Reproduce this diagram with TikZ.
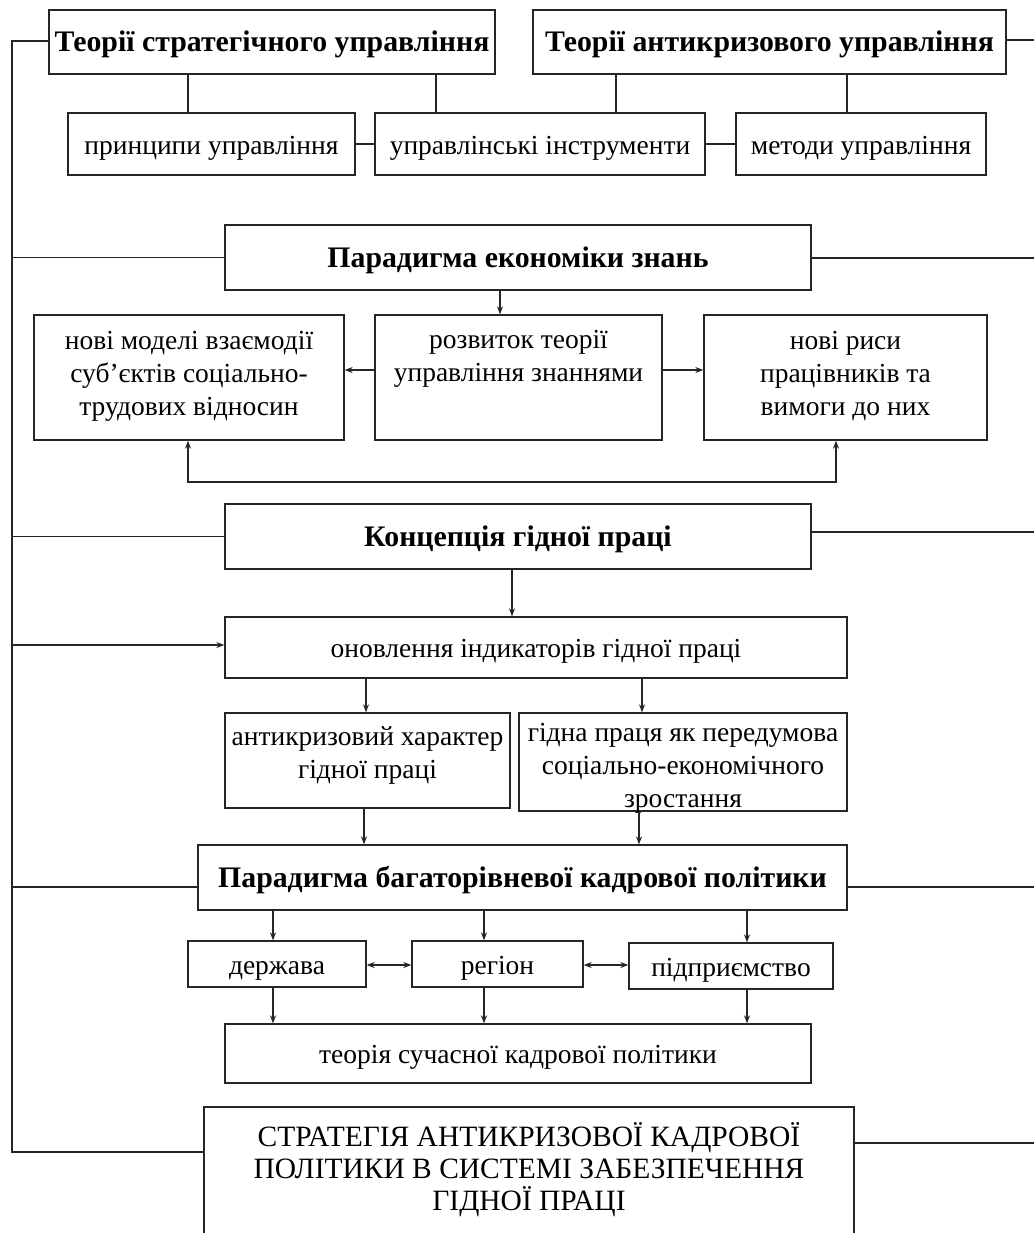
\documentclass[tikz,border=0pt]{standalone}
\usepackage{fontspec}
\setmainfont{Liberation Serif}
\usetikzlibrary{arrows.meta}
\begin{document}
\begin{tikzpicture}[x=1bp,y=-1bp,
  box/.style={draw=black!85, line width=1.3bp, inner sep=0pt, align=center, font=\fontsize{27.5bp}{33bp}\selectfont, text height=20.6bp, text depth=0pt},
  hbox/.style={box, font=\fontsize{29.8bp}{33bp}\selectfont\bfseries, text height=19.6bp},
  ln/.style={draw=black!85, line width=1.3bp},
  arr/.style={ln, -{Stealth[length=8bp,width=6bp]}},
  darr/.style={ln, {Stealth[length=8bp,width=6bp]}-{Stealth[length=8bp,width=6bp]}}]
\useasboundingbox (0,0) rectangle (1034,1233);
\clip (0,0) rectangle (1034,1233);
\fill[white] (0,0) rectangle (1034,1233);
% top row
\node[hbox, minimum width=446bp, minimum height=64bp] (b1) at (272,42) {Теорії стратегічного управління};
\node[hbox, minimum width=473bp, minimum height=64bp] (b2) at (769.5,42) {Теорії антикризового управління};
\node[box, minimum width=287bp, minimum height=62bp] (p1) at (211.5,144) {принципи управління};
\node[box, minimum width=330bp, minimum height=62bp] (p2) at (540,144) {управлінські інструменти};
\node[box, minimum width=250bp, minimum height=62bp] (p3) at (861,144) {методи управління};
\draw[ln] (p1.east) -- (p2.west);
\draw[ln] (p2.east) -- (p3.west);
\draw[ln] (188,0 |- b1.south) -- (188,0 |- p1.north);
\draw[ln] (436,0 |- b1.south) -- (436,0 |- p2.north);
\draw[ln] (616,0 |- b2.south) -- (616,0 |- p2.north);
\draw[ln] (847,0 |- b2.south) -- (847,0 |- p3.north);
% knowledge economy
\node[hbox, minimum width=586bp, minimum height=65bp] (ec) at (518,257.5) {Парадигма економіки знань};
\node[box, text height=86.6bp, text depth=11.6bp, minimum width=310bp, minimum height=125bp] (m1) at (189,377.5) {нові моделі взаємодії\\суб’єктів соціально-\\трудових відносин};
\node[box, text height=53.6bp, text depth=45bp, minimum width=287bp, minimum height=125bp] (m2) at (518.5,377.5) {розвиток теорії\\управління знаннями};
\node[box, text height=86.6bp, text depth=11.6bp, minimum width=283bp, minimum height=125bp] (m3) at (845.5,377.5) {нові риси\\працівників та\\вимоги до них};
\draw[arr] (500,0 |- ec.south) -- (500,0 |- m2.north);
\draw[arr] (m2.west |- 0,370) -- (m1.east |- 0,370);
\draw[arr] (m2.east |- 0,370) -- (m3.west |- 0,370);
\draw[darr] (188,0 |- m1.south) -- (188,482) -- (836,482) -- (836,0 |- m3.south);
% decent work
\node[hbox, minimum width=586bp, minimum height=65bp] (kc) at (518,536.5) {Концепція гідної праці};
\node[box, minimum width=622bp, minimum height=61bp] (up) at (536,647.5) {оновлення індикаторів гідної праці};
\node[box, text height=53.6bp, text depth=18.6bp, minimum width=285bp, minimum height=95bp] (a1) at (367.5,760.5) {антикризовий характер\\гідної праці};
\node[box, text height=90.6bp, text depth=0pt, minimum width=328bp, minimum height=98bp] (a2) at (683,762) {гідна праця як передумова\\соціально-економічного\\зростання};
\draw[arr] (512,0 |- kc.south) -- (512,0 |- up.north);
\draw[arr] (366,0 |- up.south) -- (366,0 |- a1.north);
\draw[arr] (642,0 |- up.south) -- (642,0 |- a2.north);
% multilevel
\node[hbox, minimum width=649bp, minimum height=65bp] (pk) at (522.5,877.5) {Парадигма багаторівневої кадрової політики};
\draw[arr] (364,0 |- a1.south) -- (364,0 |- pk.north);
\draw[arr] (639,0 |- a2.south) -- (639,0 |- pk.north);
\node[box, minimum width=178bp, minimum height=46bp] (d1) at (277,964) {держава};
\node[box, minimum width=171bp, minimum height=46bp] (d2) at (497.5,964) {регіон};
\node[box, minimum width=204bp, minimum height=46bp] (d3) at (731,966) {підприємство};
\draw[arr] (273,0 |- pk.south) -- (273,0 |- d1.north);
\draw[arr] (484,0 |- pk.south) -- (484,0 |- d2.north);
\draw[arr] (747,0 |- pk.south) -- (747,0 |- d3.north);
\draw[darr] (d1.east |- 0,965) -- (d2.west |- 0,965);
\draw[darr] (d2.east |- 0,965) -- (d3.west |- 0,965);
\node[box, minimum width=586bp, minimum height=59bp] (th) at (518,1053.5) {теорія сучасної кадрової політики};
\draw[arr] (273,0 |- d1.south) -- (273,0 |- th.north);
\draw[arr] (484,0 |- d2.south) -- (484,0 |- th.north);
\draw[arr] (747,0 |- d3.south) -- (747,0 |- th.north);
% strategy
\node[box, minimum width=650bp, minimum height=153bp] (s) at (529,1183.5) {};
\node[align=center, inner sep=0pt, font=\fontsize{29.5bp}{32bp}\selectfont, text height=83.5bp, text depth=0pt] (st) at (529,1168.5) {СТРАТЕГІЯ АНТИКРИЗОВОЇ КАДРОВОЇ\\ПОЛІТИКИ В СИСТЕМІ ЗАБЕЗПЕЧЕННЯ\\ГІДНОЇ ПРАЦІ};
% left bus
\draw[ln] (b1.west |- 0,41) -- (12,41) -- (12,1152) -- (s.west |- 0,1152);
\draw[ln] (12,0 |- ec.west) -- (ec.west);
\draw[ln] (12,0 |- kc.west) -- (kc.west);
\draw[arr] (12,645) -- (up.west |- 0,645);
\draw[ln] (12,887) -- (pk.west |- 0,887);
% right lines
\draw[ln] (b2.east |- 0,40) -- (1040,40);
\draw[ln] (ec.east |- 0,258) -- (1040,258);
\draw[ln] (kc.east |- 0,532) -- (1040,532);
\draw[ln] (pk.east |- 0,887) -- (1040,887);
\draw[ln] (s.east |- 0,1143) -- (1040,1143);
\end{tikzpicture}
\end{document}
